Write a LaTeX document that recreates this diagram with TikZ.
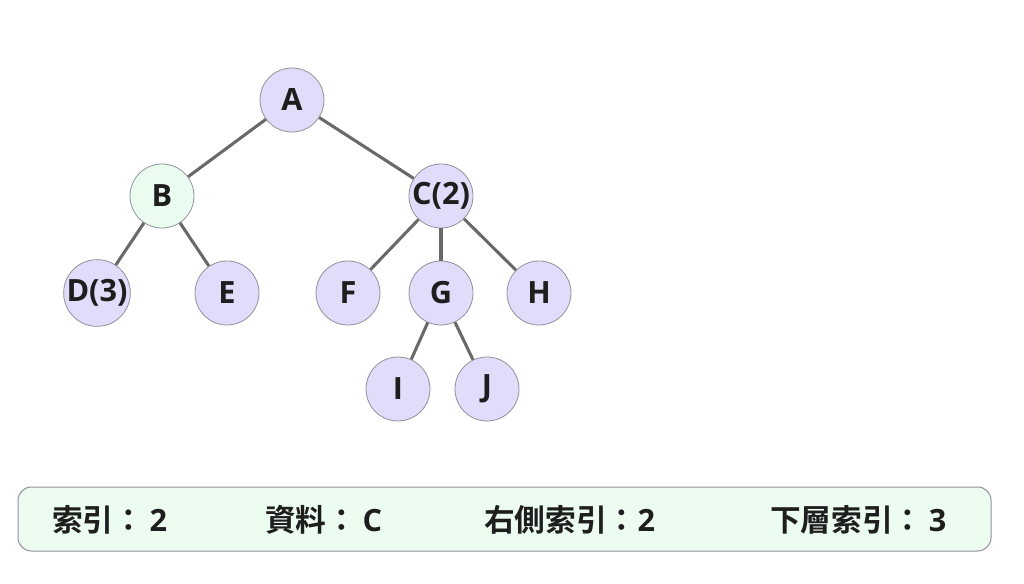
\documentclass[tikz,border=0pt]{standalone}
\usepackage{fontspec}
\setmainfont{Open Sans}
\newfontfamily\cjk{Noto Sans CJK TC}[BoldFont={Noto Sans CJK TC Bold}]
\usepackage{xcolor}
\definecolor{nodefill}{RGB}{224,220,250}
\definecolor{rootfill}{RGB}{234,251,239}
\definecolor{boxfill}{RGB}{236,252,241}
\definecolor{rimgray}{RGB}{145,145,155}
\definecolor{edgegray}{RGB}{105,105,105}
\definecolor{inkblack}{RGB}{30,30,30}

\tikzset{
    treenode/.style={circle,draw=rimgray,line width=0.6pt,fill=nodefill,minimum size=48pt,inner sep=0pt,
        font=\fontsize{23}{23}\selectfont\bfseries,text=inkblack},
    greennode/.style={treenode,fill=rootfill},
    treeedge/.style={draw=edgegray,line width=2.3pt},
    infotext/.style={anchor=west,inner sep=0pt,font=\fontsize{23}{23}\selectfont,text=inkblack}
}

\begin{document}
\begin{tikzpicture}[x=0.75pt,y=0.75pt,yscale=-1,xscale=1]
    \useasboundingbox (0,0) rectangle (1024,584);
    
    % Tree nodes
    \node [treenode] (A) at (292,100) {A};
    \node [greennode] (B) at (162,196) {B};
    \node [treenode] (C) at (441,196) {C(2)};
    \node [treenode] (D) at (97,293) {D(3)};
    \node [treenode] (E) at (227,293) {E};
    \node [treenode] (F) at (348,293) {F};
    \node [treenode] (G) at (441,293) {G};
    \node [treenode] (H) at (539,293) {H};
    \node [treenode] (I) at (398,389) {I};
    \node [treenode] (J) at (487,389) {J};
    
    % Edges
    \draw [treeedge] (A) -- (B);
    \draw [treeedge] (A) -- (C);
    \draw [treeedge] (B) -- (D);
    \draw [treeedge] (B) -- (E);
    \draw [treeedge] (C) -- (F);
    \draw [treeedge] (C) -- (G);
    \draw [treeedge] (C) -- (H);
    \draw [treeedge] (G) -- (I);
    \draw [treeedge] (G) -- (J);
    
    % Info box
    \draw [draw=rimgray,line width=0.75pt,fill=boxfill,rounded corners=10pt] (18,487) rectangle (991,551);
    
    % Text Node
    \node [infotext] (idx) at (52,520) {{\cjk\bfseries 索引：}\kern4pt\textbf{2}};
    % Text Node
    \node [infotext] (dat) at (265,520) {{\cjk\bfseries 資料：}\kern4pt\textbf{C}};
    % Text Node
    \node [infotext] (rgt) at (484,520) {{\cjk\bfseries 右側索引：}\textbf{2}};
    % Text Node
    \node [infotext] (low) at (770,520) {{\cjk\bfseries 下層索引：}\kern4pt\textbf{3}};
    
\end{tikzpicture}
\end{document}
